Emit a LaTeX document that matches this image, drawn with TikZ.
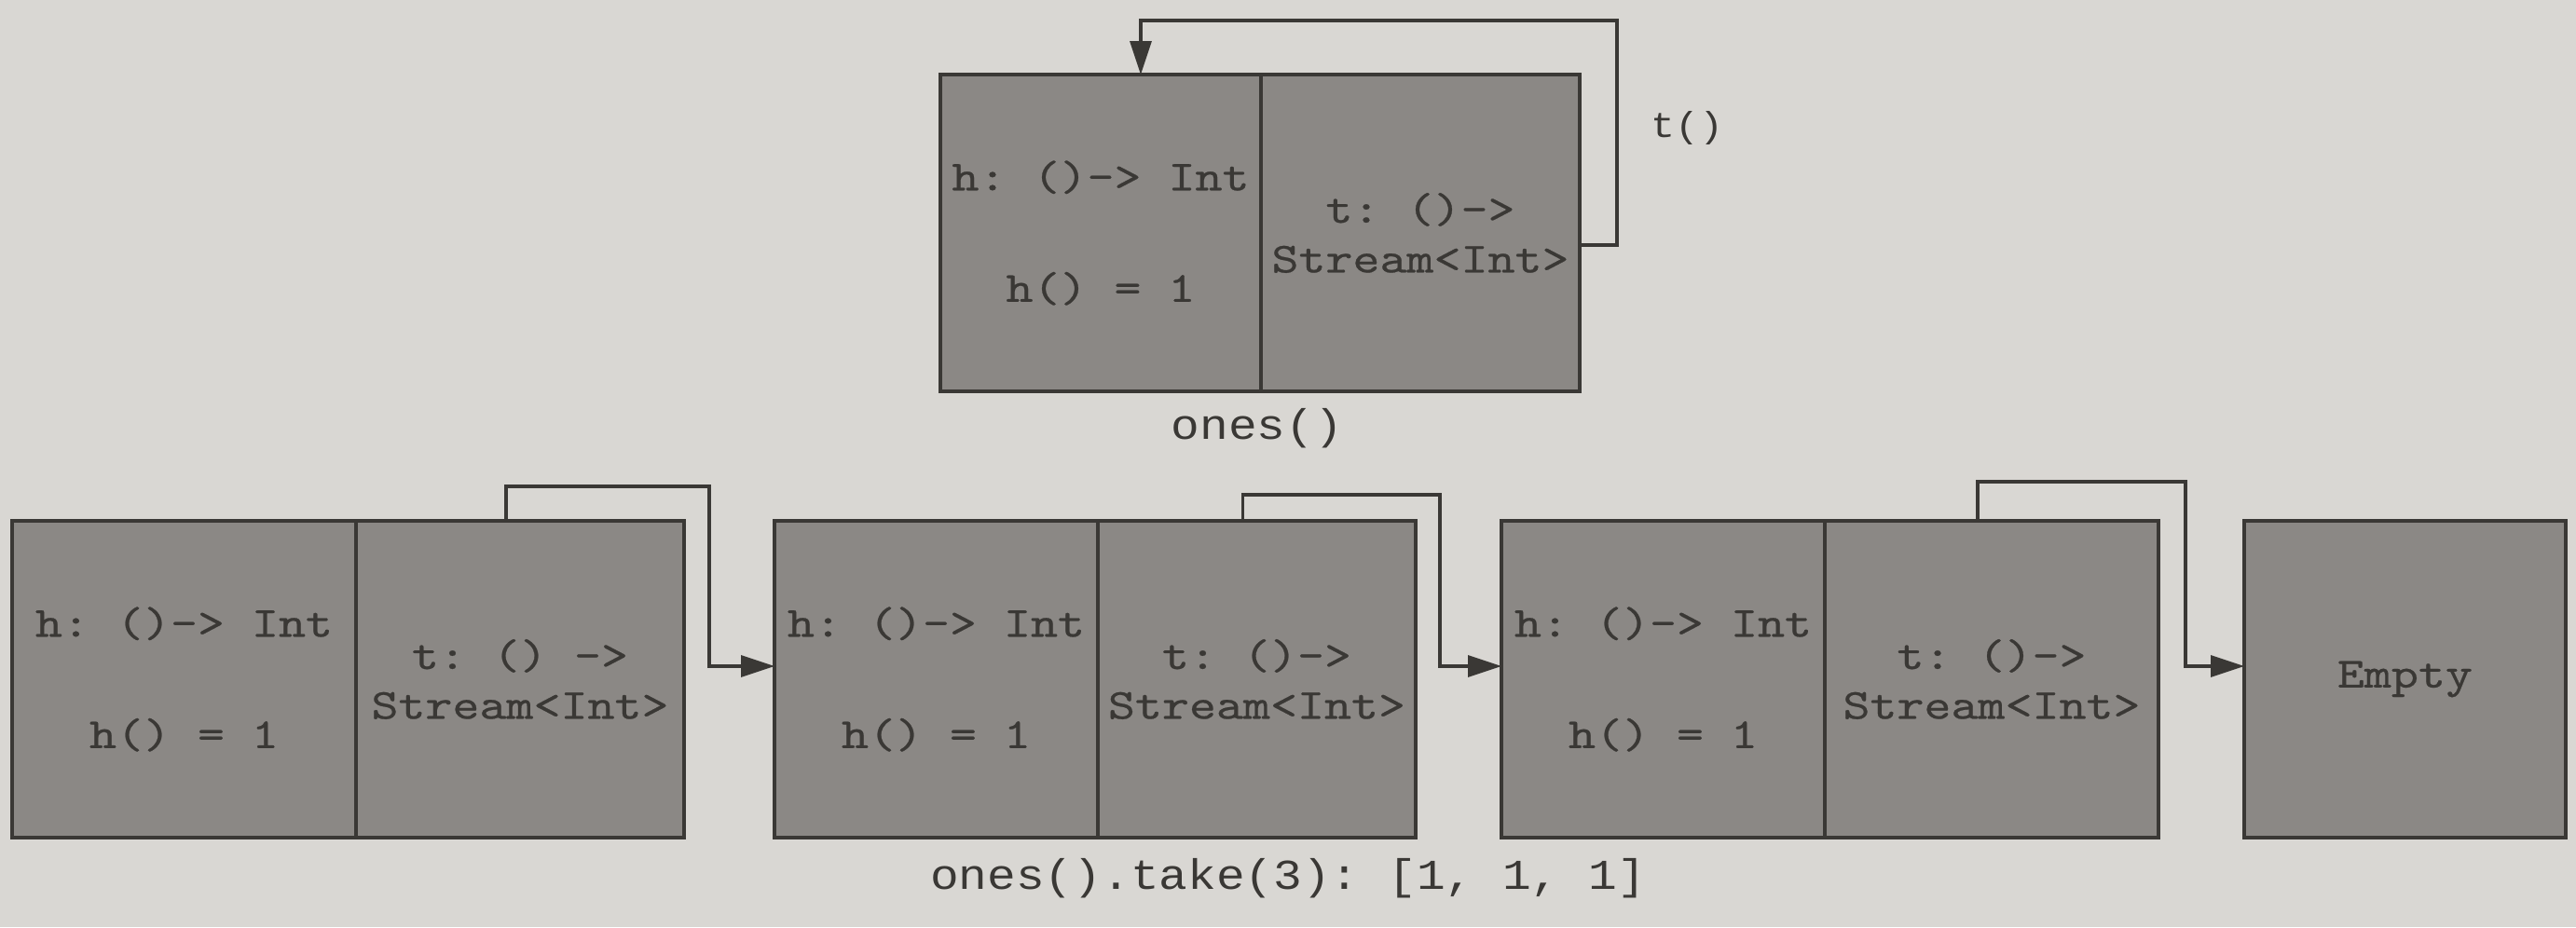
\documentclass[tikz,border=0pt]{standalone}
\usepackage{fontspec}
\usetikzlibrary{arrows.meta,positioning}
\newfontfamily\cellfamily{lmmono10-regular.otf}[FakeStretch=1.2,FakeBold=0.5]
\newfontfamily\labelfamily{Liberation Mono}[FakeStretch=1.12]
\definecolor{paper}{HTML}{D9D7D3}
\definecolor{cellgray}{HTML}{8B8885}
\definecolor{inkdark}{HTML}{3A3835}
\tikzset{
    cell/.style={fill=cellgray, inner sep=0pt, outer sep=0pt, minimum height=3.4cm, align=center, text=inkdark, font=\cellfamily\fontsize{13.1}{15.2}\selectfont},
    frame/.style={draw=inkdark, line width=1.3pt},
    divider/.style={draw=inkdark, line width=0.9pt},
    link/.style={draw=inkdark, line width=0.9pt, -{Triangle[length=3.6mm,width=2.3mm]}},
    caption/.style={text=inkdark, font=\labelfamily\fontsize{13}{16}\selectfont}
}
\frenchspacing

\begin{document}
\begin{tikzpicture}
    % Paper
    \fill[paper] (0,0) rectangle (27.64,-9.95);

    % ones() cell
    \node[cell, minimum width=3.44cm] (oh) at (11.81,-2.50) {h: ()-> Int\\[18.8pt]h() = 1};
    \node[cell, minimum width=3.42cm, right=0pt of oh] (ot) {t: ()->\\Stream<Int>};

    % take(3) cells
    \node[cell, minimum width=3.69cm] (b1h) at (1.975,-7.29) {h: ()-> Int\\[18.8pt]h() = 1};
    \node[cell, minimum width=3.52cm, right=0pt of b1h] (b1t) {t: () ->\\Stream<Int>};
    \node[cell, minimum width=3.47cm] (b2h) at (10.045,-7.29) {h: ()-> Int\\[18.8pt]h() = 1};
    \node[cell, minimum width=3.41cm, right=0pt of b2h] (b2t) {t: ()->\\Stream<Int>};
    \node[cell, minimum width=3.47cm] (b3h) at (17.845,-7.29) {h: ()-> Int\\[18.8pt]h() = 1};
    \node[cell, minimum width=3.58cm, right=0pt of b3h] (b3t) {t: ()->\\Stream<Int>};
    \node[cell, frame, minimum width=3.45cm] (em) at (25.805,-7.29) {Empty};

    % Frames and dividers
    \foreach \b in {o,b1,b2,b3} {
        \draw[frame] (\b h.north west) rectangle (\b t.south east);
        \draw[divider] (\b h.north east) -- (\b h.south east);
    }

    % Tail links
    \draw[link] ([yshift=-1.3mm]ot.east) -| (17.35,-0.22) -| ([xshift=4.3mm]oh.north);
    \draw[link] ([xshift=-1.5mm]b1t.north) |- (7.61,-5.22) |- ([yshift=1.4mm]b2h.west);
    \draw[link] ([xshift=-1.5mm]b2t.north) |- (15.45,-5.31) |- ([yshift=1.4mm]b3h.west);
    \draw[link] ([xshift=-1.5mm]b3t.north) |- (23.45,-5.17) |- ([yshift=1.4mm]em.west);

    % Labels
    \node[caption, font=\labelfamily\fontsize{11}{13}\selectfont, anchor=west] (tcall) at (17.59,-1.37) {t()};
    \node[caption] (oneslabel) at (13.49,-4.60) {ones()};
    \node[caption] (takelabel) at (13.82,-9.43) {ones().take(3): [1, 1, 1]};
\end{tikzpicture}
\end{document}
